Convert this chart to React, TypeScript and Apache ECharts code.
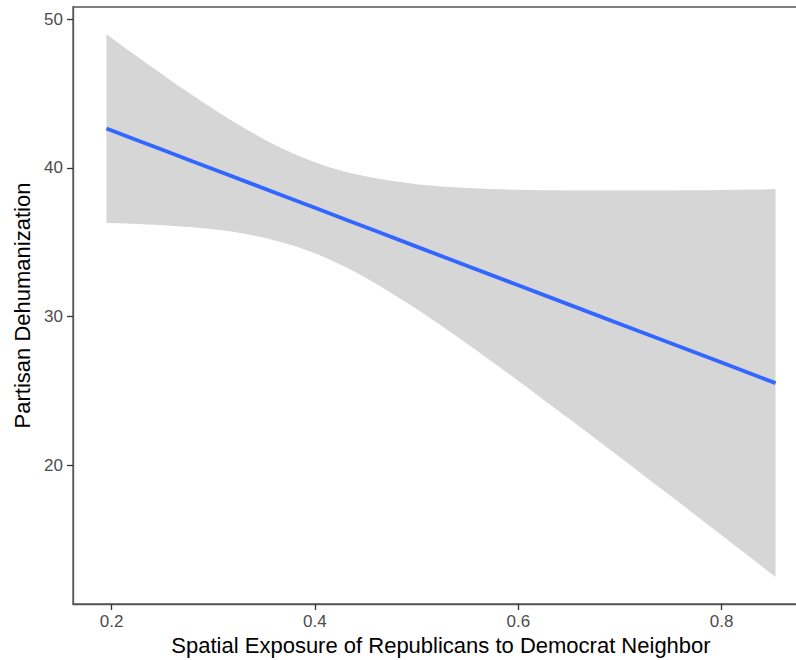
import React, { useEffect, useRef } from "react";
import * as echarts from "echarts";

// Exposure values at which the fitted line and its confidence band were read
const exposure = [0.195, 0.22, 0.25, 0.28, 0.31, 0.34, 0.37, 0.4, 0.43, 0.46, 0.5, 0.55, 0.6, 0.65, 0.7, 0.75, 0.8, 0.853];
// Fitted partisan dehumanization (regression line)
const fitted = [42.65, 42.0, 41.22, 40.44, 39.66, 38.88, 38.1, 37.32, 36.54, 35.76, 34.71, 33.41, 32.11, 30.81, 29.51, 28.21, 26.91, 25.53];
// Upper bound of the confidence band
const upperBand = [49.0, 47.75, 46.29, 44.87, 43.53, 42.31, 41.24, 40.38, 39.74, 39.3, 38.91, 38.66, 38.54, 38.49, 38.48, 38.49, 38.52, 38.56];
// Lower bound of the confidence band
const lowerBand = [36.3, 36.25, 36.15, 36.01, 35.79, 35.45, 34.96, 34.26, 33.34, 32.22, 30.51, 28.16, 25.68, 23.13, 20.54, 17.93, 15.3, 12.5];

const xTicks = [0.2, 0.4, 0.6, 0.8];
const yTicks = [20, 30, 40, 50];

const xTitle = "Spatial Exposure of Republicans to Democrat Neighbor";
const yTitle = "Partisan Dehumanization";

const FONT = "'Liberation Sans', Arial, Helvetica, sans-serif";

export default function App() {
  const ref = useRef<HTMLDivElement>(null);

  useEffect(() => {
    if (!ref.current) return;
    const chart = echarts.init(ref.current, undefined, { renderer: "svg" });

    const n = exposure.length;

    chart.setOption({
      animation: false,
      backgroundColor: "#ffffff",
      textStyle: { fontFamily: FONT },
      grid: {
        left: 73,
        top: 7,
        width: 736,
        height: 597,
        show: true,
        borderColor: "#555555",
        borderWidth: 1.3,
        backgroundColor: "transparent",
        containLabel: false,
        outerBoundsMode: "none",
      },
      xAxis: {
        type: "value",
        min: 0.1621,
        max: 0.8859,
        name: xTitle,
        nameLocation: "middle",
        nameGap: 29,
        nameTextStyle: { fontSize: 22, color: "#000000", fontFamily: FONT },
        axisLine: { show: true, lineStyle: { color: "#555555", width: 1.3 } },
        axisTick: {
          show: true,
          length: 6,
          customValues: xTicks,
          lineStyle: { color: "#333333", width: 1.3 },
        },
        axisLabel: {
          customValues: xTicks,
          margin: 9,
          fontSize: 17,
          color: "#4D4D4D",
          fontFamily: FONT,
          formatter: (v: number) => v.toFixed(1),
        },
        splitLine: { show: false },
      },
      yAxis: {
        type: "value",
        min: 10.675,
        max: 50.825,
        name: yTitle,
        nameLocation: "middle",
        nameGap: 34,
        nameRotate: 90,
        nameTextStyle: { fontSize: 22, color: "#000000", fontFamily: FONT },
        axisLine: { show: true, lineStyle: { color: "#555555", width: 1.3 } },
        axisTick: {
          show: true,
          length: 6,
          customValues: yTicks,
          lineStyle: { color: "#333333", width: 1.3 },
        },
        axisLabel: {
          customValues: yTicks,
          margin: 10,
          fontSize: 17,
          color: "#4D4D4D",
          fontFamily: FONT,
        },
        splitLine: { show: false },
      },
      series: [
        {
          type: "custom",
          z: 1,
          silent: true,
          data: [[exposure[0], fitted[0]]],
          renderItem: (_params: any, api: any) => {
            const pts: number[][] = [];
            for (let i = 0; i < n; i++) {
              const p = api.coord([exposure[i], upperBand[i]]);
              pts.push(p);
              if (i === 0 || i === n - 1) pts.push(p.slice());
            }
            for (let i = n - 1; i >= 0; i--) {
              const p = api.coord([exposure[i], lowerBand[i]]);
              pts.push(p);
              if (i === 0 || i === n - 1) pts.push(p.slice());
            }
            return {
              type: "polygon",
              shape: { points: pts, smooth: 0.35 },
              style: { fill: "#D6D6D6", stroke: "none" },
            };
          },
        },
        {
          type: "line",
          z: 2,
          data: exposure.map((x, i) => [x, fitted[i]]),
          symbol: "none",
          lineStyle: { color: "#3366FF", width: 3.8 },
        },
      ],
    });

    return () => chart.dispose();
  }, []);

  return (
    <div
      ref={ref}
      style={{ position: "fixed", left: 0, top: 0, width: 796, height: 660 }}
    />
  );
}
